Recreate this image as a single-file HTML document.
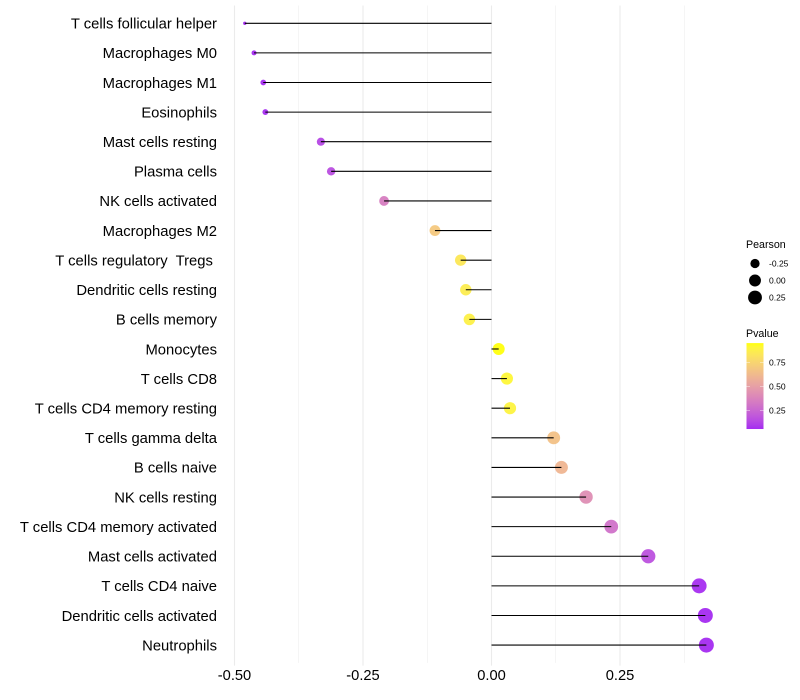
<!DOCTYPE html>
<html>
<head>
<meta charset="utf-8">
<title>Immune cell correlation lollipop chart</title>
<style>
html,body{margin:0;padding:0;background:#fff;width:800px;height:700px;overflow:hidden}
svg{display:block}
text{font-family:"Liberation Sans",sans-serif}
</style>
</head>
<body>
<svg id="chart" width="800" height="700" viewBox="0 0 800 700" xmlns="http://www.w3.org/2000/svg"></svg>
<script>
const categories = ["T cells follicular helper","Macrophages M0","Macrophages M1","Eosinophils","Mast cells resting","Plasma cells","NK cells activated","Macrophages M2","T cells regulatory  Tregs ","Dendritic cells resting","B cells memory","Monocytes","T cells CD8","T cells CD4 memory resting","T cells gamma delta","B cells naive","NK cells resting","T cells CD4 memory activated","Mast cells activated","T cells CD4 naive","Dendritic cells activated","Neutrophils"];
const pearson = [-0.480,-0.462,-0.444,-0.440,-0.332,-0.312,-0.209,-0.110,-0.060,-0.050,-0.043,0.014,0.030,0.036,0.121,0.136,0.184,0.233,0.305,0.404,0.416,0.418];
const pvalue = [0.055,0.056,0.058,0.060,0.130,0.157,0.350,0.690,0.840,0.860,0.880,0.950,0.910,0.895,0.660,0.600,0.420,0.296,0.166,0.062,0.056,0.055];
const xTicks = [-0.5,-0.25,0,0.25];
const xTickLabels = ["-0.50","-0.25","0.00","0.25"];
const xMinorTicks = [-0.375,-0.125,0.125,0.375];
const sizeLegendValues = [-0.25,0,0.25];
const sizeLegendLabels = ["-0.25","0.00","0.25"];
const colorLegendValues = [0.75,0.5,0.25];
const colorLegendLabels = ["0.75","0.50","0.25"];

const svg = document.getElementById('chart');
const NS = 'http://www.w3.org/2000/svg';
function make(tag, attrs, parent, txt) {
  const el = document.createElementNS(NS, tag);
  for (const k in attrs) el.setAttribute(k, attrs[k]);
  if (txt !== undefined) { el.textContent = txt; el.setAttribute('xml:space', 'preserve'); el.style.whiteSpace = 'pre'; }
  (parent || svg).appendChild(el);
  return el;
}
const xScale = v => 491.5 + v * 514;
const yScale = i => 23.28 + i * 29.61;
const panelTop = 5.5, panelBottom = 662.9;
const sizeMin = Math.min(...pearson), sizeMax = Math.max(...pearson);
const rScale = v => 1.7 + 5.8 * Math.sqrt(Math.max(0, (v - sizeMin) / (sizeMax - sizeMin)));

function toLab(c) {
  const f = u => { u /= 255; return u > 0.04045 ? Math.pow((u + 0.055) / 1.055, 2.4) : u / 12.92; };
  const r = f(c[0]), g = f(c[1]), b = f(c[2]);
  const x = (0.4124 * r + 0.3576 * g + 0.1805 * b) / 0.95047, y = 0.2126 * r + 0.7152 * g + 0.0722 * b, z = (0.0193 * r + 0.1192 * g + 0.9505 * b) / 1.08883;
  const h = t => t > 0.008856 ? Math.cbrt(t) : 7.787 * t + 16 / 116;
  return [116 * h(y) - 16, 500 * (h(x) - h(y)), 200 * (h(y) - h(z))];
}
function fromLab(l) {
  const fy = (l[0] + 16) / 116, fx = fy + l[1] / 500, fz = fy - l[2] / 200;
  const h = t => t * t * t > 0.008856 ? t * t * t : (t - 16 / 116) / 7.787;
  const x = 0.95047 * h(fx), y = h(fy), z = 1.08883 * h(fz);
  const lin = [3.2406 * x - 1.5372 * y - 0.4986 * z, -0.9689 * x + 1.8758 * y + 0.0415 * z, 0.0557 * x - 0.204 * y + 1.057 * z];
  return lin.map(u => {
    const s = u > 0.0031308 ? 1.055 * Math.pow(u, 1 / 2.4) - 0.055 : 12.92 * u;
    return Math.round(Math.min(1, Math.max(0, s)) * 255);
  });
}
const labLow = toLab([160, 32, 240]), labHigh = toLab([255, 255, 0]);
const pMin = 0.055, pMax = 0.95;
function colorScale(p) {
  const t = Math.min(1, Math.max(0, (p - pMin) / (pMax - pMin)));
  const c = fromLab(labLow.map((a, i) => a + (labHigh[i] - a) * t));
  return 'rgb(' + c.join(',') + ')';
}

// grid
const grid = make('g', {}, svg);


xMinorTicks.forEach(v => {
  const l = make('line', {x1: xScale(v), x2: xScale(v), y1: panelTop, y2: panelBottom, stroke: '#ebebeb', 'stroke-width': 0.53}, grid);
  
  
});
xTicks.forEach(v => {
  const l = make('line', {x1: xScale(v), x2: xScale(v), y1: panelTop, y2: panelBottom + 2.7, stroke: '#ebebeb', 'stroke-width': 1.07}, grid);
  
  
});

// points
categories.forEach((c, i) => {
  const d = make('circle', {cx: xScale(pearson[i]), cy: yScale(i), r: rScale(pearson[i]), fill: colorScale(pvalue[i]), 'fill-opacity': 0.9});
  
  
});
// stems
categories.forEach((c, i) => {
  const l = make('line', {x1: xScale(pearson[i]), x2: xScale(0), y1: yScale(i), y2: yScale(i), stroke: '#000', 'stroke-width': 1.07});
  
  
});

// y labels
categories.forEach((c, i) => {
  const t = make('text', {x: 217, y: yScale(i) + 5.3, 'text-anchor': 'end', 'font-size': 14.8, fill: '#000'}, svg, c);
  
  
});
// x labels
xTicks.forEach((v, i) => {
  const t = make('text', {x: xScale(v), y: 680, 'text-anchor': 'middle', 'font-size': 14.67, fill: '#000'}, svg, xTickLabels[i]);
  
  
});

// size legend
const t1 = make('text', {x: 746, y: 248, 'font-size': 10.67, fill: '#000'}, svg, 'Pearson');


const sizeLegendY = v => 280.5 + v * 68;
sizeLegendValues.forEach((v, i) => {
  const yy = sizeLegendY(v);
  const d = make('circle', {cx: 755, cy: yy, r: rScale(v), fill: '#000'});
  
  
  const t = make('text', {x: 769, y: yy + 3, 'font-size': 8.53, fill: '#000'}, svg, sizeLegendLabels[i]);
  
  
});

// color legend
const t2 = make('text', {x: 746, y: 337, 'font-size': 10.67, fill: '#000'}, svg, 'Pvalue');


const barY = p => 386.3 - (p - 0.5) * 96;
const defs = make('defs', {});
const grad = make('linearGradient', {id: 'pgrad', x1: 0, y1: 1, x2: 0, y2: 0}, defs);
for (let s = 0; s <= 20; s++) {
  make('stop', {offset: (s / 20), 'stop-color': colorScale(pMin + (pMax - pMin) * s / 20)}, grad);
}
const bar = make('rect', {x: 746.5, y: barY(pMax), width: 17, height: barY(pMin) - barY(pMax), fill: 'url(#pgrad)', 'fill-opacity': 0.95});


colorLegendValues.forEach((v, i) => {
  const yy = barY(v);
  const a = make('line', {x1: 746.5, x2: 750, y1: yy, y2: yy, stroke: '#fff', 'stroke-opacity': 0.7, 'stroke-width': 0.6});
  
  
  const b = make('line', {x1: 760, x2: 763.5, y1: yy, y2: yy, stroke: '#fff', 'stroke-opacity': 0.7, 'stroke-width': 0.6});
  
  
  const t = make('text', {x: 769, y: yy + 3, 'font-size': 8.53, fill: '#000'}, svg, colorLegendLabels[i]);
  
  
});
</script>
</body>
</html>
